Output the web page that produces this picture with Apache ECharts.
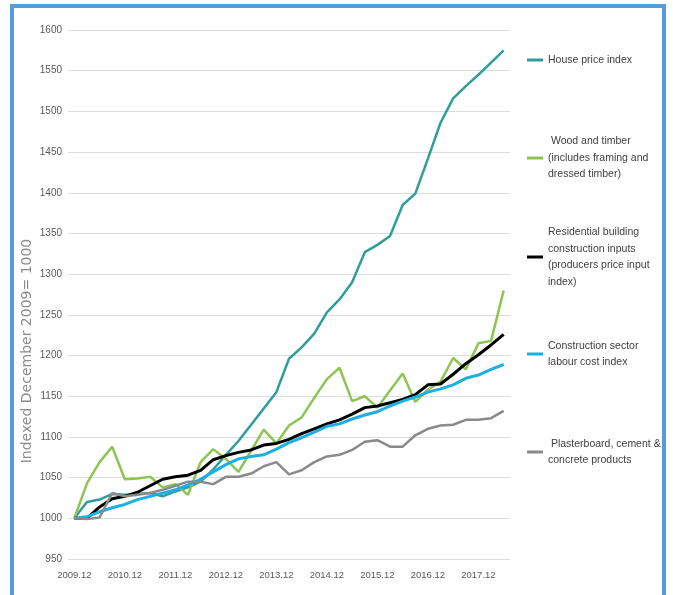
<!DOCTYPE html>
<html>
<head>
<meta charset="utf-8">
<script src="https://cdn.jsdelivr.net/npm/echarts@6/dist/echarts.min.js"></script>
<style>
  html, body { margin: 0; padding: 0; background: #fff; }
  #frame {
    position: absolute; left: 10px; top: 4px; width: 648px; height: 595px;
    border: 4px solid #5b9bd5; border-bottom: none; box-sizing: content-box;
  }
  #chart { position: absolute; left: 0; top: 0; width: 673px; height: 595px; }
</style>
</head>
<body>
<div id="frame"></div>
<div id="chart"></div>
<script>
// quarterly, Dec 2009 .. Jun 2018
const quarters = [];
for (let y = 2009; y <= 2018; y++) {
  ["03", "06", "09", "12"].forEach(m => {
    const q = y + "." + m;
    if (q >= "2009.12" && q <= "2018.06") quarters.push(q);
  });
}

const housePrice = [1000, 1020, 1023, 1030, 1029, 1030, 1031, 1027, 1033, 1038, 1045, 1060, 1078, 1095, 1115, 1135, 1155, 1196, 1210, 1227, 1253, 1269, 1290, 1327, 1336, 1347, 1385, 1399, 1442, 1486, 1516, 1531, 1545, 1560, 1575];
const woodTimber = [1000, 1043, 1069, 1088, 1048, 1049, 1051, 1038, 1042, 1029, 1069, 1085, 1073, 1057, 1083, 1109, 1092, 1114, 1124, 1148, 1171, 1185, 1144, 1150, 1136, 1157, 1178, 1143, 1158, 1168, 1197, 1183, 1215, 1218, 1280];
const residentialInputs = [1000, 1000, 1014, 1024, 1027, 1032, 1040, 1048, 1051, 1053, 1059, 1072, 1077, 1081, 1084, 1090, 1092, 1097, 1104, 1110, 1116, 1121, 1128, 1136, 1138, 1142, 1146, 1152, 1164, 1165, 1177, 1190, 1201, 1213, 1226];
const labourCost = [1000, 1002, 1008, 1013, 1017, 1023, 1027, 1031, 1035, 1041, 1048, 1057, 1066, 1073, 1076, 1078, 1085, 1093, 1099, 1106, 1113, 1116, 1122, 1127, 1131, 1138, 1144, 1149, 1155, 1159, 1164, 1172, 1176, 1183, 1189];
const plasterboard = [1000, 999, 1001, 1031, 1027, 1029, 1031, 1035, 1040, 1045, 1045, 1042, 1051, 1051, 1055, 1064, 1069, 1054, 1059, 1069, 1076, 1078, 1084, 1094, 1096, 1088, 1088, 1102, 1110, 1114, 1115, 1121, 1121, 1123, 1132];

const seriesNames = [
  "House price index",
  " Wood and timber\n(includes framing and\ndressed timber)",
  "Residential building\nconstruction inputs\n(producers price input\nindex)",
  "Construction sector\nlabour cost index",
  " Plasterboard, cement &\nconcrete products"
];
const seriesData = [housePrice, woodTimber, residentialInputs, labourCost, plasterboard];
const colors = ["#2f9e98", "#8dc454", "#000000", "#1faee0", "#8a8a8a"];
const widths = [2.5, 2.5, 3, 3, 2.5];
const legendIconY = [60, 158, 257, 354, 452];

const lineH = 16.5;
const textFont = "'Liberation Sans', Arial, sans-serif";

const myChart = echarts.init(document.getElementById("chart"));

const option = {
  animation: false,
  color: colors,
  grid: { left: 68, right: 163, top: 30, bottom: 36 },
  //one legend per series so each can sit at its own height
  legend: seriesNames.map((name, i) => {
    const n = name.split("\n").length;
    return {
      data: [name],
      orient: "vertical",
      left: 527,
      top: legendIconY[i] - (2 * n - 1) * lineH / 2,
      padding: 0,
      icon: "rect",
      itemWidth: 16,
      itemHeight: 3,
      selectedMode: false,
      textStyle: {
        color: "#404040",
        fontFamily: textFont,
        fontSize: 10.5,
        lineHeight: lineH,
        padding: [(n - 1) * lineH, 0, 0, 0]
      }
    };
  }),
  xAxis: {
    type: "category",
    data: quarters,
    boundaryGap: true,
    axisLine: { show: false },
    axisTick: { show: false },
    axisLabel: {
      interval: 3,
      color: "#595959",
      fontFamily: textFont,
      fontSize: 9.5,
      margin: 11
    }
  },
  yAxis: {
    type: "value",
    min: 950,
    max: 1600,
    interval: 50,
    axisLine: { show: false },
    axisTick: { show: false },
    axisLabel: {
      color: "#595959",
      fontFamily: textFont,
      fontSize: 10,
      margin: 6,
      formatter: v => String(v)
    },
    splitLine: { lineStyle: { color: "#dcdcdc", width: 1 } }
  },
  graphic: [
    {
      type: "text",
      x: 27,
      y: 351,
      rotation: Math.PI / 2,
      style: {
        text: "Indexed December 2009= 1000",
        fill: "#8c8c8c",
        font: "14px 'DejaVu Sans', sans-serif",
        align: "center",
        verticalAlign: "middle"
      }
    }
  ],
  series: seriesNames.map((name, i) => ({
    name: name,
    type: "line",
    data: seriesData[i],
    symbol: "none",
    lineStyle: { width: widths[i], color: colors[i] }
  }))
};
myChart.setOption(option);
</script>
</body>
</html>
